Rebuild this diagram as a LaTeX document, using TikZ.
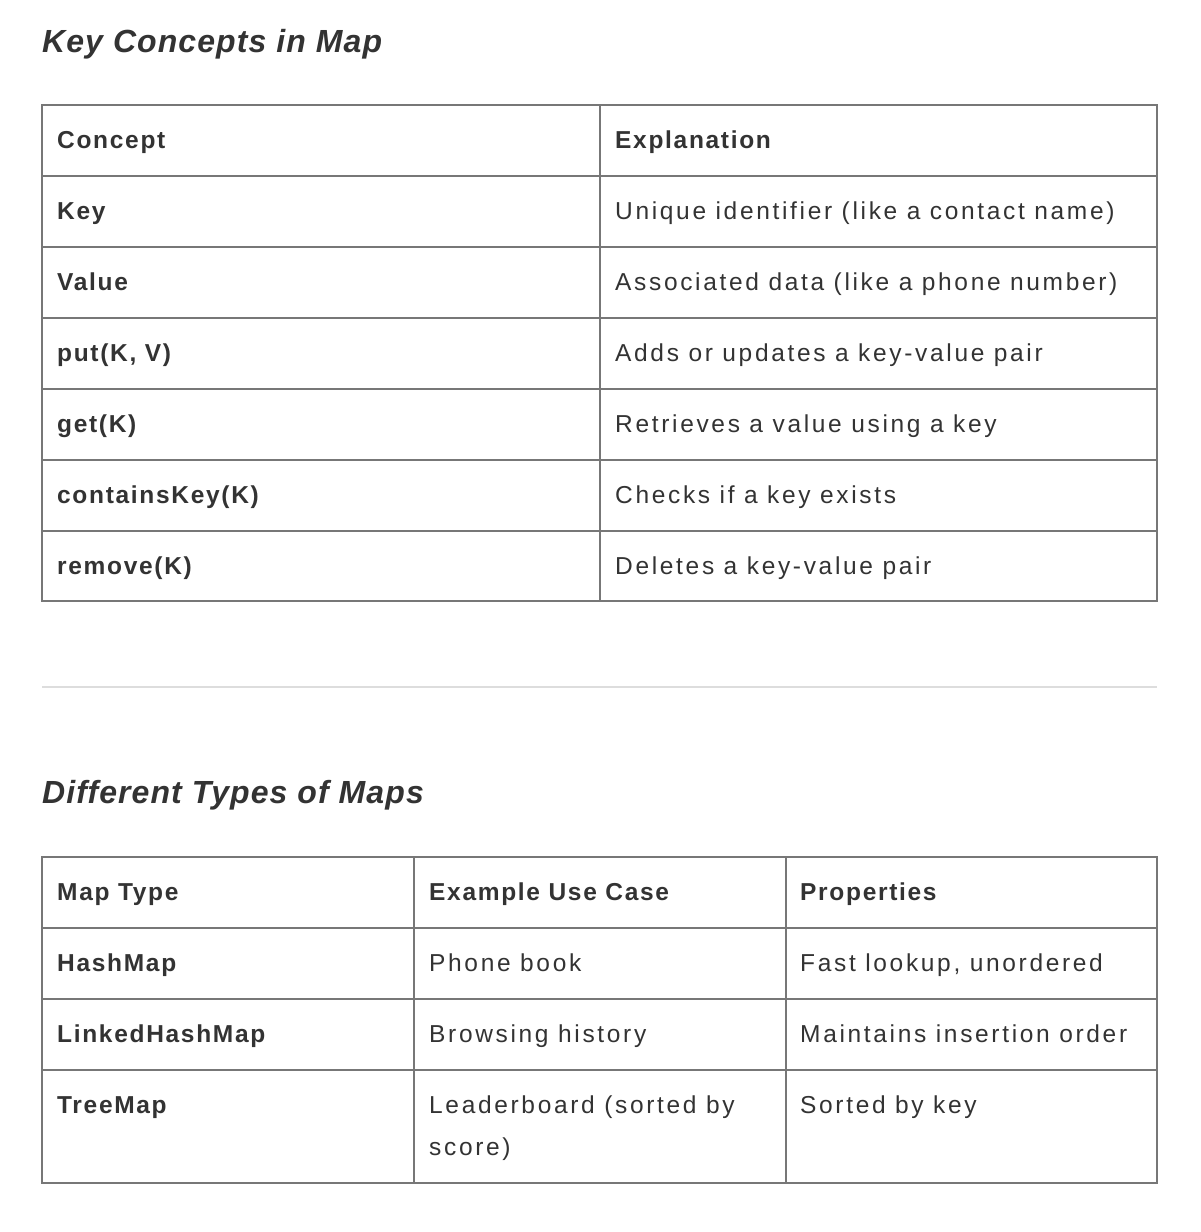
\documentclass[tikz,border=0pt]{standalone}
\usepackage{fontspec}
\setmainfont{Liberation Sans}
\newfontfamily\bodyfont[LetterSpace=10.9]{Liberation Sans}
\newfontfamily\headfont[LetterSpace=6.9]{Liberation Sans}
\newfontfamily\titlefont[LetterSpace=3.4]{Liberation Sans}
\definecolor{txt}{HTML}{333333}
\definecolor{grid}{HTML}{777777}
\definecolor{rule}{HTML}{DDDDDD}
\begin{document}
\begin{tikzpicture}[x=1pt,y=-1pt,
  cell/.style={anchor=base west,inner sep=0pt,text=txt,font=\bodyfont\fontsize{24.5}{42}\selectfont},
  hcell/.style={anchor=base west,inner sep=0pt,text=txt,font=\headfont\fontsize{24.5}{42}\selectfont\bfseries},
  ttl/.style={anchor=base west,inner sep=0pt,text=txt,font=\titlefont\fontsize{32}{38}\selectfont\bfseries\itshape},
  gridline/.style={draw=grid,line width=1.3pt}]
\useasboundingbox[fill=white] (0,0) rectangle (1200,1232);
% Title 1
\node[ttl] (t1) at (42,52) {Key Concepts in Map};
% Table 1 grid
\foreach \y in {176,247,318,389,460,531} \draw[gridline] (42,\y) -- (1157,\y);
\draw[gridline] (600,105) -- (600,601);
\draw[gridline] (42,105) rectangle (1157,601);
% Table 1 text
\node[hcell] (a0) at (57,148) {Concept};
\node[hcell] (b0) at (615,148) {Explanation};
\node[hcell] (a1) at (57,219) {Key};
\node[cell] (b1) at (615,219) {Unique identifier (like a contact name)};
\node[hcell] (a2) at (57,290) {Value};
\node[cell] (b2) at (615,290) {Associated data (like a phone number)};
\node[hcell] (a3) at (57,361) {put(K, V)};
\node[cell] (b3) at (615,361) {Adds or updates a key-value pair};
\node[hcell] (a4) at (57,432) {get(K)};
\node[cell] (b4) at (615,432) {Retrieves a value using a key};
\node[hcell] (a5) at (57,503) {containsKey(K)};
\node[cell] (b5) at (615,503) {Checks if a key exists};
\node[hcell] (a6) at (57,574) {remove(K)};
\node[cell] (b6) at (615,574) {Deletes a key-value pair};
% separator
\draw[draw=rule,line width=2pt] (42,687) -- (1157,687);
% Title 2
\node[ttl] (t2) at (42,803) {Different Types of Maps};
% Table 2 grid
\foreach \y in {928,999,1070} \draw[gridline] (42,\y) -- (1157,\y);
\draw[gridline] (414,857) -- (414,1183);
\draw[gridline] (786,857) -- (786,1183);
\draw[gridline] (42,857) rectangle (1157,1183);
% Table 2 text
\node[hcell] (c0) at (57,900) {Map Type};
\node[hcell] (d0) at (429,900) {Example Use Case};
\node[hcell] (e0) at (800,900) {Properties};
\node[hcell] (c1) at (57,971) {HashMap};
\node[cell] (d1) at (429,971) {Phone book};
\node[cell] (e1) at (800,971) {Fast lookup, unordered};
\node[hcell] (c2) at (57,1042) {LinkedHashMap};
\node[cell] (d2) at (429,1042) {Browsing history};
\node[cell] (e2) at (800,1042) {Maintains insertion order};
\node[hcell] (c3) at (57,1113) {TreeMap};
\node[cell] (d3) at (429,1113) {Leaderboard (sorted by};
\node[cell] (d3b) at (429,1155) {score)};
\node[cell] (e3) at (800,1113) {Sorted by key};
\end{tikzpicture}
\end{document}
